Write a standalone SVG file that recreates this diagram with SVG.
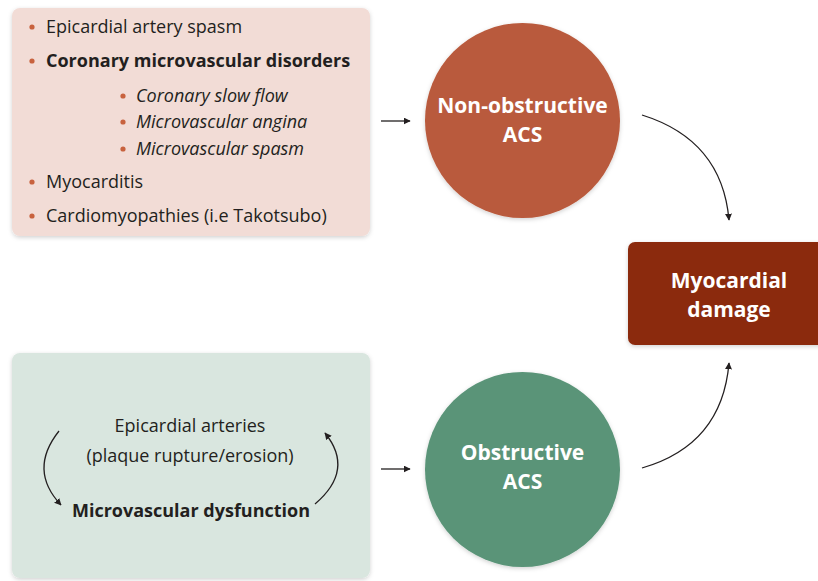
<svg xmlns="http://www.w3.org/2000/svg" width="818" height="581" viewBox="0 0 818 581">
<defs>
<style>
.t{font-family:"Open Sans","Liberation Sans",sans-serif;fill:#231f20;font-size:18px}
.b{font-weight:bold}
.i{font-style:italic}
.w{font-family:"Open Sans","Liberation Sans",sans-serif;fill:#fff;font-size:21px;font-weight:bold;text-anchor:middle}
.c{text-anchor:middle}
.dot{fill:#c8623e}
.ln{fill:none;stroke:#231f20;stroke-width:1.3}
</style>
<marker id="ah" viewBox="0 0 10 10" refX="9" refY="5" markerWidth="7" markerHeight="7" markerUnits="userSpaceOnUse" orient="auto">
<path d="M0,0 L10,5 L0,10 z" fill="#231f20"/>
</marker>
<filter id="sh" x="-10%" y="-10%" width="120%" height="125%">
<feDropShadow dx="0" dy="1.5" stdDeviation="2" flood-color="#000" flood-opacity="0.18"/>
</filter>
</defs>
<rect width="818" height="581" fill="#fff"/>

<g id="causes-nonobstructive">
<rect x="12" y="8" width="358" height="228" rx="8" fill="#f2dcd6" filter="url(#sh)"/>
<circle class="dot" cx="32" cy="27" r="2.6"/>
<text class="t" x="46" y="33">Epicardial artery spasm</text>
<circle class="dot" cx="32" cy="61" r="2.6"/>
<text class="t b" x="46" y="67">Coronary microvascular disorders</text>
<circle class="dot" cx="123" cy="96" r="2.6"/>
<text class="t i" x="136" y="102">Coronary slow flow</text>
<circle class="dot" cx="123" cy="122" r="2.6"/>
<text class="t i" x="136" y="128">Microvascular angina</text>
<circle class="dot" cx="123" cy="149" r="2.6"/>
<text class="t i" x="136" y="155">Microvascular spasm</text>
<circle class="dot" cx="32" cy="182" r="2.6"/>
<text class="t" x="46" y="188">Myocarditis</text>
<circle class="dot" cx="32" cy="216" r="2.6"/>
<text class="t" x="46" y="222">Cardiomyopathies (i.e Takotsubo)</text>
</g>

<g id="causes-obstructive">
<rect x="12" y="353" width="358" height="225" rx="8" fill="#d9e6df" filter="url(#sh)"/>
<text class="t c" x="190" y="432">Epicardial arteries</text>
<text class="t c" x="190" y="462">(plaque rupture/erosion)</text>
<text class="t b c" x="191" y="517">Microvascular dysfunction</text>
</g>

<g id="non-obstructive-acs">
<circle cx="522.5" cy="120.5" r="97.5" fill="#b95a3c" filter="url(#sh)"/>
<text class="w" x="522.5" y="113">Non-obstructive</text>
<text class="w" x="522.5" y="142">ACS</text>
</g>

<g id="obstructive-acs">
<circle cx="522.5" cy="469.5" r="97.5" fill="#5a9478" filter="url(#sh)"/>
<text class="w" x="522.5" y="460">Obstructive</text>
<text class="w" x="522.5" y="489">ACS</text>
</g>

<g id="myocardial-damage">
<rect x="628" y="242" width="200" height="103" rx="7" fill="#8b2a0c" filter="url(#sh)"/>
<text class="w" x="729" y="288">Myocardial</text>
<text class="w" x="729" y="317">damage</text>
</g>

<g id="connectors">
<path class="ln" d="M381,121 L410,121" marker-end="url(#ah)"/>
<path class="ln" d="M381,469 L410,469" marker-end="url(#ah)"/>
<path class="ln" d="M642,115 Q722,140 729,220" marker-end="url(#ah)"/>
<path class="ln" d="M642,468 Q722,445 729,363" marker-end="url(#ah)"/>
<path class="ln" d="M59,431 Q28,470 61,505" marker-end="url(#ah)"/>
<path class="ln" d="M315,504 Q355,470 325,433" marker-end="url(#ah)"/>
</g>
</svg>
